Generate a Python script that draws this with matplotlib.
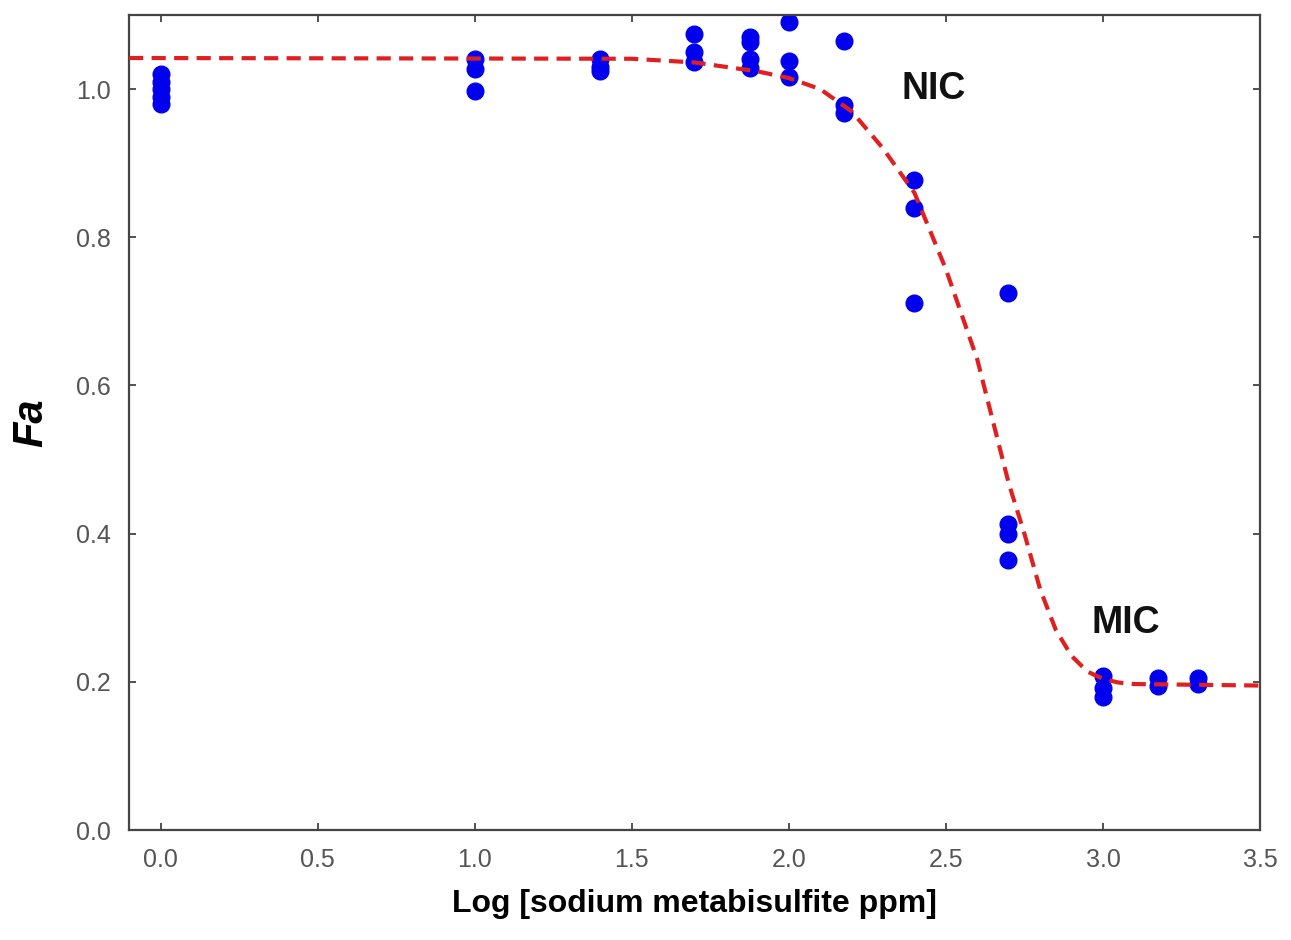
import matplotlib.pyplot as plt

plt.rcParams['font.family'] = ['Liberation Sans', 'DejaVu Sans']

# measured points: log concentration and Fa
log_conc = [0.0, 0.0, 0.0, 0.0, 0.0,
            1.0, 1.0, 1.0,
            1.398, 1.398, 1.398,
            1.699, 1.699, 1.699,
            1.875, 1.875, 1.875, 1.875,
            2.0, 2.0, 2.0,
            2.176, 2.176, 2.176,
            2.398, 2.398, 2.398,
            2.699, 2.699, 2.699, 2.699,
            3.0, 3.0, 3.0,
            3.176, 3.176,
            3.301, 3.301]
fa_values = [1.02, 1.01, 1.0, 0.99, 0.98,
             1.04, 1.027, 0.998,
             1.04, 1.03, 1.024,
             1.074, 1.05, 1.037,
             1.07, 1.064, 1.04, 1.028,
             1.09, 1.038, 1.016,
             1.065, 0.978, 0.968,
             0.877, 0.84, 0.712,
             0.725, 0.413, 0.4, 0.365,
             0.208, 0.192, 0.18,
             0.205, 0.195,
             0.205, 0.197]

# fitted curve
fit_x = [-0.1, 1.5, 1.7, 1.8, 1.9, 2.0, 2.1, 2.2, 2.3, 2.4, 2.5,
         2.6, 2.7, 2.75, 2.8, 2.85, 2.9, 2.95, 3.0, 3.05, 3.1, 3.5]
fit_y = [1.042, 1.041, 1.036, 1.03, 1.024, 1.015, 1.0, 0.97, 0.92, 0.86, 0.757,
         0.635, 0.468, 0.40, 0.325, 0.27, 0.235, 0.214, 0.204, 0.199, 0.197, 0.195]

x_ticks = [0.0, 0.5, 1.0, 1.5, 2.0, 2.5, 3.0, 3.5]
y_ticks = [0.0, 0.2, 0.4, 0.6, 0.8, 1.0]

fig = plt.figure(figsize=(12.91, 9.40), dpi=100)
ax = fig.add_axes([0.1, 0.117, 0.876, 0.867])

ax.plot(log_conc, fa_values, 'o', color='#0000ee', markersize=12, zorder=2)
ax.plot(fit_x, fit_y, color='#e02020', linewidth=3, dashes=(3.4, 2), zorder=3)

ax.text(2.36, 1.0, 'NIC', fontsize=27, fontweight='bold', va='center', color='#111111')
ax.text(2.965, 0.28, 'MIC', fontsize=27, fontweight='bold', va='center', color='#111111')

ax.set_xlim(-0.1, 3.5)
ax.set_ylim(0.0, 1.1)
ax.set_xticks(x_ticks)
ax.set_yticks(y_ticks)
ax.set_xticklabels([f'{v:.1f}' for v in x_ticks])
ax.set_yticklabels([f'{v:.1f}' for v in y_ticks])
ax.tick_params(direction='in', length=5, width=1.2, top=True, right=True,
               labelsize=18, labelcolor='#555555', color='#333333', pad=13)

for s in ax.spines.values():
    s.set_color('#444444')
    s.set_linewidth(1.6)

ax.set_xlabel('Log [sodium metabisulfite ppm]', fontsize=23, fontweight='bold', labelpad=12)
ax.set_ylabel('Fa', fontsize=30, fontweight='bold', fontstyle='italic', labelpad=18)

fig.savefig('out.png', dpi=100)
